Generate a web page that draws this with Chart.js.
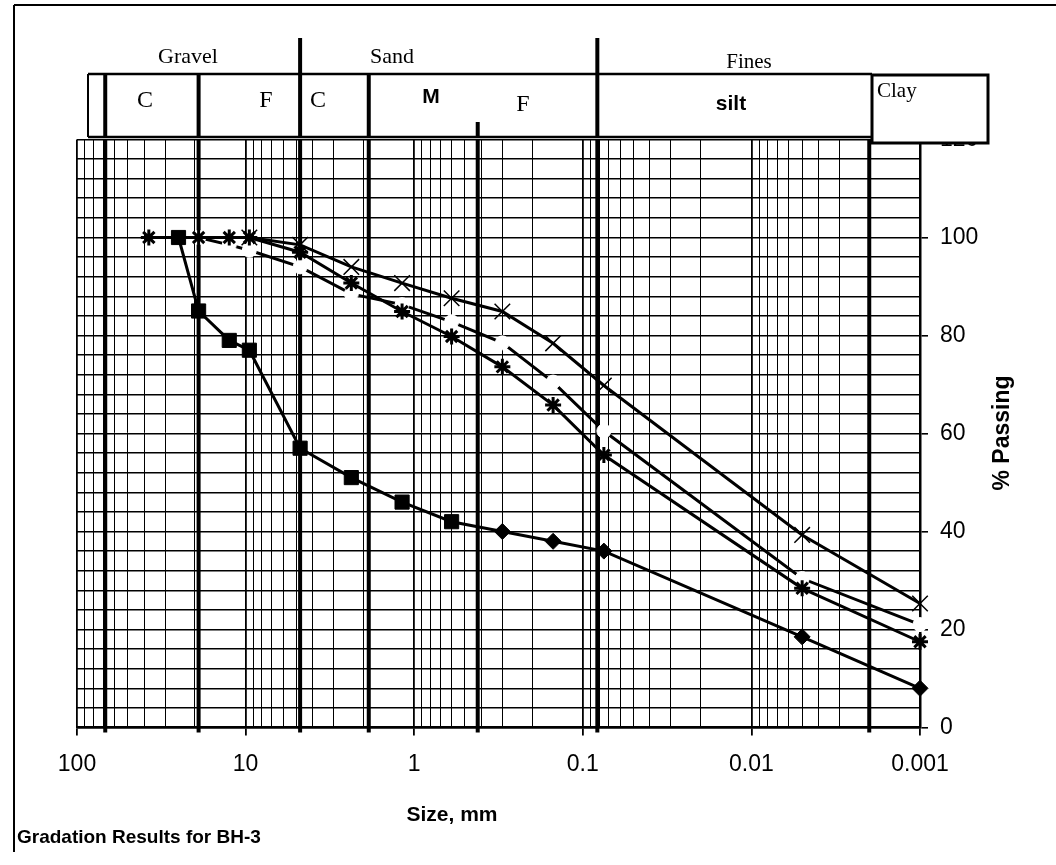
<!DOCTYPE html>
<html><head><meta charset="utf-8">
<script src="https://cdn.jsdelivr.net/npm/chart.js@4.4.1/dist/chart.umd.min.js"></script>
<style>html,body{margin:0;padding:0;background:#fff;}canvas{display:block;}</style>
</head><body>
<canvas id="c" width="1056" height="865"></canvas>
<script>
// ---- data ----
const sizesMm       = [37.5, 25, 19, 12.5, 9.5, 4.75, 2.36, 1.18, 0.6, 0.3, 0.15, 0.075, 0.005, 0.001];
const seriesSquares = [null, 100, 85, 79, 77, 57, 51, 46, 42, 40, 38, 36, 18.5, 8];
const seriesCross   = [null, null, null, null, 100, 98.5, 94, 90.7, 87.6, 84.9, 78.4, 69.8, 39.3, 25.3];
const seriesStar    = [100, null, 100, 100, 100, 97, 90.7, 84.9, 79.8, 73.6, 65.8, 55.6, 28.4, 17.5];
const seriesOpen    = [null, null, 100, 98.5, 97.4, 94, 88.5, 86.3, 82.8, 78.5, 70.5, 60.5, 30.4, 21];
const xDecades      = [100, 10, 1, 0.1, 0.01, 0.001];
const xTickLabels   = ['100', '10', '1', '0.1', '0.01', '0.001'];
const yMajorValues  = [0, 20, 40, 60, 80, 100, 120];
const yTickLabels   = ['0', '20', '40', '60', '80', '100', '120'];
const boundarySizes = [68, 19, 4.75, 1.86, 0.42, 0.082, 0.002];
const groupLabels   = ['Gravel', 'Sand', 'Fines'];
const subLabels     = ['C', 'F', 'C', 'M', 'F', 'silt', 'Clay'];
const xTitle = 'Size, mm';
const yTitle = '% Passing';
const caption = 'Gradation Results for BH-3';

// gridline values for the log axis (1..9 in each decade)
const xGridValues = [];
[0.001, 0.01, 0.1, 1, 10].forEach(d => { for (let k = 1; k <= 9; k++) xGridValues.push(+(k * d).toPrecision(6)); });
xGridValues.push(100);

const isDecade = v => xDecades.some(d => Math.abs(Math.log10(d) - Math.log10(v)) < 1e-9);
const pts = arr => sizesMm.map((x, i) => ({x: x, y: arr[i]})).filter(p => p.y !== null);

const SANS = '"Liberation Sans", Arial, sans-serif';
const SERIF = '"Liberation Serif", "Times New Roman", serif';

const decor = {
  id: 'decor',
  beforeDraw(chart) {
    const c = chart.ctx; c.save(); c.fillStyle = '#fff'; c.fillRect(0, 0, chart.width, chart.height); c.restore();
  },
  beforeDatasetsDraw(chart) {
    const {ctx, chartArea, scales: {x}} = chart;
    ctx.save(); ctx.strokeStyle = '#000'; ctx.lineWidth = 4;
    boundarySizes.forEach(s => {
      const px = x.getPixelForValue(s);
      ctx.beginPath(); ctx.moveTo(px, chartArea.top); ctx.lineTo(px, chartArea.bottom + 5); ctx.stroke();
    });
    ctx.restore();
  },
  afterDraw(chart) {
    const {ctx, scales: {x}} = chart;
    const line = (x1, y1, x2, y2) => { ctx.beginPath(); ctx.moveTo(x1, y1); ctx.lineTo(x2, y2); ctx.stroke(); };
    ctx.save();
    ctx.strokeStyle = '#000'; ctx.fillStyle = '#000';
    // outer frame
    ctx.lineWidth = 2; line(14, 5, 1056, 5); line(14, 5, 14, 852);
    // header row box
    ctx.fillStyle = '#fff'; ctx.fillRect(88, 74, 784, 63);
    ctx.lineWidth = 2.5; line(88, 74, 872, 74); line(88, 137, 872, 137);
    ctx.lineWidth = 2; line(88, 74, 88, 137);
    const ext = [[74, 137], [74, 137], [38, 137], [74, 137], [122, 137], [38, 137]];
    ctx.lineWidth = 4;
    ext.forEach((e, i) => { const px = x.getPixelForValue(boundarySizes[i]); line(px, e[0], px, e[1]); });
    // clay box
    ctx.fillStyle = '#fff'; ctx.fillRect(872, 75, 116, 68);
    ctx.lineWidth = 3; ctx.strokeRect(872, 75, 116, 68);
    // header texts
    ctx.fillStyle = '#000'; ctx.textBaseline = 'middle'; ctx.textAlign = 'center';
    ctx.font = '22px ' + SERIF;
    ctx.fillText(groupLabels[0], 188, 57);
    ctx.fillText(groupLabels[1], 392, 57);
    ctx.font = '21px ' + SERIF;
    ctx.fillText(groupLabels[2], 749, 62);
    ctx.font = '24px ' + SERIF;
    ctx.fillText(subLabels[0], 145, 101);
    ctx.fillText(subLabels[1], 266, 101);
    ctx.fillText(subLabels[2], 318, 101);
    ctx.fillText(subLabels[4], 523, 105);
    ctx.font = 'bold 21px ' + SANS;
    ctx.fillText(subLabels[3], 431, 97);
    ctx.fillText(subLabels[5], 731, 104);
    ctx.textAlign = 'left'; ctx.font = '21px ' + SERIF;
    ctx.fillText(subLabels[6], 877, 91);
    // titles
    ctx.textAlign = 'center'; ctx.font = 'bold 21px ' + SANS;
    ctx.fillText(xTitle, 452, 815);
    ctx.save(); ctx.translate(1003, 433); ctx.rotate(-Math.PI / 2);
    ctx.font = 'bold 23px ' + SANS; ctx.fillText(yTitle, 0, 0); ctx.restore();
    ctx.textAlign = 'left'; ctx.font = 'bold 19px ' + SANS;
    ctx.fillText(caption, 17, 838);
    ctx.restore();
  }
};

new Chart(document.getElementById('c'), {
  type: 'line',
  data: {
    datasets: [
      { label: 'A', data: pts(seriesSquares), borderColor: '#000', backgroundColor: '#000', borderWidth: 3,
        pointStyle: c => (c.raw && c.raw.x >= 0.6) ? 'rect' : 'rectRot',
        pointRadius: c => (c.raw && c.raw.x >= 0.6) ? 10 : 8,
        pointBackgroundColor: '#000', pointBorderColor: '#000', pointBorderWidth: 1, order: 0, clip: false },
      { label: 'C', data: pts(seriesStar), borderColor: '#000', borderWidth: 3,
        pointStyle: 'star', pointRadius: 8, pointBorderColor: '#000', pointBorderWidth: 3, order: 1, clip: false },
      { label: 'B', data: pts(seriesCross), borderColor: '#000', borderWidth: 3,
        pointStyle: 'crossRot', pointRadius: 11, pointBorderColor: '#000', pointBorderWidth: 1.5, order: 2, clip: false },
      { label: 'D', data: pts(seriesOpen), borderColor: '#000', borderWidth: 3,
        pointStyle: 'circle', pointRadius: 7, pointBackgroundColor: '#fff', pointBorderColor: '#fff', pointBorderWidth: 1, order: 3, clip: false }
    ]
  },
  options: {
    responsive: false, animation: false, devicePixelRatio: 1,
    layout: { padding: { left: 77, top: 139.5, right: 0, bottom: 0 } },
    plugins: { legend: { display: false }, tooltip: { enabled: false }, title: { display: false } },
    elements: { line: { tension: 0 } },
    scales: {
      x: {
        type: 'logarithmic', reverse: true, min: 0.001, max: 100, position: 'bottom',
        afterBuildTicks: s => { s.ticks = xGridValues.map(v => ({value: v})); },
        afterFit: s => { s.height = 865 - 727.5; },
        ticks: { autoSkip: false, maxRotation: 0, minRotation: 0, padding: 15, color: '#000',
          font: { family: SANS, size: 23 },
          callback: v => { const i = xDecades.findIndex(d => Math.abs(Math.log10(d) - Math.log10(v)) < 1e-9); return i >= 0 ? xTickLabels[i] : ''; } },
        grid: { color: '#000', lineWidth: c => (c.tick && isDecade(c.tick.value)) ? 1.8 : 1, tickLength: 8,
          tickColor: c => (c.tick && isDecade(c.tick.value)) ? '#000' : 'rgba(0,0,0,0)' },
        border: { display: true, color: '#000', width: 2.5 }
      },
      y: {
        type: 'linear', position: 'right', min: 0, max: 120,
        afterFit: s => { s.width = 136; },
        ticks: { stepSize: 4, autoSkip: false, padding: 12, color: '#000', font: { family: SANS, size: 23 },
          callback: v => { const i = yMajorValues.indexOf(v); return i >= 0 ? yTickLabels[i] : ''; } },
        grid: { color: '#000', lineWidth: 1.6, tickLength: 8,
          tickColor: c => (c.tick && c.tick.value % 20 === 0) ? '#000' : 'rgba(0,0,0,0)' },
        border: { display: true, color: '#000', width: 2.5 }
      }
    }
  },
  plugins: [decor]
});
</script>
</body></html>
